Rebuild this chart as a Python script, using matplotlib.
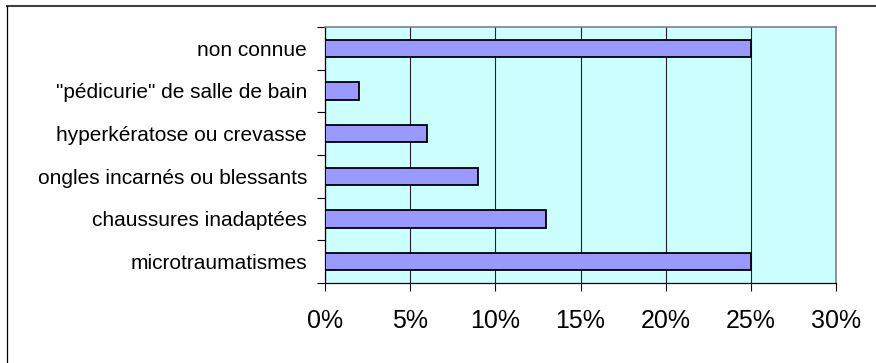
import matplotlib.pyplot as plt
from matplotlib.lines import Line2D

# data (percent)
causes = ["microtraumatismes", "chaussures inadaptées",
          "ongles incarnés ou blessants", "hyperkératose ou crevasse",
          "\"pédicurie\" de salle de bain", "non connue"]
values = [25, 13, 9, 6, 2, 25]
x_ticks = [0, 5, 10, 15, 20, 25, 30]
x_labels = ["0%", "5%", "10%", "15%", "20%", "25%", "30%"]

plt.rcParams['font.family'] = ['Liberation Sans', 'DejaVu Sans']

fig = plt.figure(figsize=(8.76, 3.63), dpi=100)
ax = fig.add_axes([325 / 876, 1 - 283 / 363, 511 / 876, 256 / 363])
ax.set_facecolor("#CCFFFF")

pos = list(range(len(causes)))
ax.barh(pos, values, height=0.4, color="#9999FF", edgecolor="black",
        linewidth=1.3, zorder=3)

# x axis
ax.set_xlim(0, 30)
ax.set_xticks(x_ticks)
ax.set_xticklabels(x_labels, fontsize=18)
ax.tick_params(axis="x", length=6, width=0.8, pad=13, color="black")
ax.grid(axis="x", color="#222222", linewidth=0.8, zorder=1)

# y axis: labels at centres, tick marks at boundaries
ax.set_ylim(-0.5, len(causes) - 0.5)
ax.set_yticks(pos)
ax.set_yticklabels(causes, fontsize=15)
ax.tick_params(axis="y", which="major", length=0, pad=13)
ax.set_yticks([p - 0.5 for p in pos] + [len(causes) - 0.5], minor=True)
ax.tick_params(axis="y", which="minor", length=6, width=0.8, color="black")

for side in ["top", "right"]:
    ax.spines[side].set_color("#808080")
    ax.spines[side].set_linewidth(1.2)
for side in ["left", "bottom"]:
    ax.spines[side].set_color("black")
    ax.spines[side].set_linewidth(0.9)

# outer frame (only left and top visible)
fig.add_artist(Line2D([7 / 876, 1], [1 - 6 / 363, 1 - 6 / 363],
                      transform=fig.transFigure, color="#404040", lw=1.5))
fig.add_artist(Line2D([7 / 876, 7 / 876], [0, 1 - 6 / 363],
                      transform=fig.transFigure, color="black", lw=0.9))

fig.savefig("out.png", dpi=100)
